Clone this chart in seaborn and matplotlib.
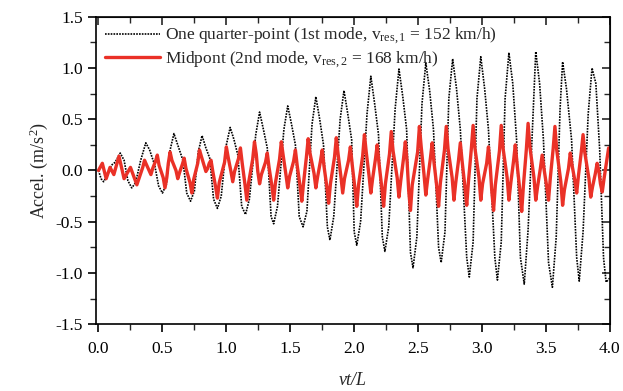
import matplotlib
matplotlib.use("Agg")
import matplotlib.pyplot as plt
from matplotlib.ticker import MultipleLocator
import seaborn as sns
import pandas as pd

# one quarter-point response (peaks, troughs, shoulders)
quarter_x = [0.00, 0.02, 0.04, 0.07, 0.10, 0.13, 0.17, 0.20, 0.23, 0.26,
             0.29, 0.33, 0.37, 0.40, 0.44, 0.47, 0.50, 0.53, 0.56, 0.59,
             0.62, 0.66, 0.69, 0.72, 0.75, 0.78, 0.81, 0.84, 0.87, 0.90,
             0.93, 0.96, 1.00, 1.03, 1.06, 1.09, 1.12, 1.15, 1.18, 1.23,
             1.26, 1.29, 1.32, 1.35, 1.37, 1.40, 1.45, 1.48, 1.51, 1.54,
             1.57, 1.60, 1.63, 1.67, 1.70, 1.73, 1.76, 1.79, 1.81, 1.84,
             1.89, 1.92, 1.95, 1.98, 2.00, 2.02, 2.05, 2.10, 2.13, 2.16,
             2.19, 2.22, 2.24, 2.27, 2.32, 2.35, 2.38, 2.41, 2.44, 2.46,
             2.49, 2.53, 2.56, 2.59, 2.62, 2.66, 2.68, 2.71, 2.74, 2.77,
             2.80, 2.83, 2.88, 2.90, 2.93, 2.96, 2.99, 3.02, 3.05, 3.10,
             3.12, 3.15, 3.18, 3.21, 3.24, 3.27, 3.30, 3.33, 3.36, 3.40,
             3.42, 3.45, 3.48, 3.52, 3.55, 3.58, 3.61, 3.63, 3.66, 3.70,
             3.74, 3.76, 3.79, 3.83, 3.86, 3.89, 3.92, 3.95, 3.97, 4.00]
quarter_y = [0.00, -0.08, -0.11, -0.05, 0.05, 0.08, 0.17, 0.10, -0.10, -0.17,
             -0.12, 0.10, 0.27, 0.20, 0.05, -0.15, -0.22, -0.14, 0.20, 0.36,
             0.25, 0.10, -0.22, -0.30, -0.20, 0.18, 0.34, 0.22, 0.12, -0.28,
             -0.37, -0.25, 0.25, 0.42, 0.30, 0.15, -0.35, -0.43, -0.28, 0.35,
             0.57, 0.40, 0.22, -0.45, -0.52, -0.35, 0.40, 0.63, 0.45, 0.25,
             -0.45, -0.55, -0.40, 0.45, 0.72, 0.50, 0.25, -0.55, -0.68, -0.45,
             0.50, 0.78, 0.55, 0.30, -0.60, -0.73, -0.50, 0.55, 0.92, 0.65,
             0.35, -0.65, -0.79, -0.55, 0.60, 0.99, 0.72, 0.40, -0.80, -0.95,
             -0.65, 0.65, 1.05, 0.78, 0.40, -0.75, -0.90, -0.60, 0.70, 1.09,
             0.80, 0.40, -0.85, -1.04, -0.70, 0.70, 1.11, 0.80, 0.40, -0.85,
             -1.07, -0.70, 0.70, 1.15, 0.85, 0.30, -0.85, -1.11, -0.58, 0.59,
             1.16, 0.85, 0.30, -0.90, -1.14, -0.65, 0.60, 1.06, 0.80, 0.30,
             -0.85, -1.08, -0.60, 0.55, 1.00, 0.85, 0.20, -0.85, -1.09, -1.05]

# midpoint response
mid_x = [0.00, 0.03, 0.06, 0.09, 0.12, 0.16, 0.20, 0.25, 0.30,
         0.346, 0.36, 0.374, 0.396, 0.41, 0.424, 0.446, 0.46, 0.474,
         0.506, 0.52, 0.534, 0.546, 0.56, 0.574, 0.606, 0.62, 0.634,
         0.656, 0.67, 0.684, 0.716, 0.73, 0.744, 0.776, 0.79, 0.804,
         0.826, 0.84, 0.854, 0.866, 0.88, 0.894, 0.916, 0.93, 0.944,
         0.986, 1.00, 1.014, 1.036, 1.05, 1.064, 1.096, 1.11, 1.124,
         1.146, 1.16, 1.174, 1.206, 1.22, 1.234, 1.246, 1.26, 1.274,
         1.306, 1.32, 1.334, 1.356, 1.37, 1.384, 1.416, 1.43, 1.444,
         1.466, 1.48, 1.494, 1.526, 1.54, 1.554, 1.576, 1.59, 1.604,
         1.626, 1.64, 1.654, 1.686, 1.70, 1.714, 1.736, 1.75, 1.764,
         1.786, 1.80, 1.814, 1.846, 1.86, 1.874, 1.896, 1.91, 1.924,
         1.956, 1.97, 1.984, 2.006, 2.02, 2.034, 2.066, 2.08, 2.094,
         2.116, 2.13, 2.144, 2.166, 2.18, 2.194, 2.216, 2.23, 2.244,
         2.276, 2.29, 2.304, 2.336, 2.35, 2.364, 2.386, 2.40, 2.414,
         2.426, 2.44, 2.454, 2.496, 2.51, 2.524, 2.546, 2.56, 2.574,
         2.596, 2.61, 2.624, 2.646, 2.66, 2.674, 2.706, 2.72, 2.734,
         2.766, 2.78, 2.794, 2.816, 2.83, 2.844, 2.866, 2.88, 2.894,
         2.916, 2.93, 2.944, 2.976, 2.99, 3.004, 3.036, 3.05, 3.064,
         3.076, 3.09, 3.104, 3.136, 3.15, 3.164, 3.196, 3.21, 3.224,
         3.246, 3.26, 3.274, 3.296, 3.31, 3.324, 3.346, 3.36, 3.374,
         3.406, 3.42, 3.434, 3.456, 3.47, 3.484, 3.506, 3.52, 3.534,
         3.556, 3.57, 3.584, 3.616, 3.63, 3.644, 3.676, 3.69, 3.704,
         3.726, 3.74, 3.754, 3.776, 3.79, 3.804, 3.836, 3.85, 3.864,
         3.886, 3.90, 3.914, 3.926, 3.94, 3.954, 3.99, 4.00]
mid_y = [0.00, 0.07, -0.08, 0.03, -0.04, 0.14, -0.08, 0.03, -0.14,
         0.03, 0.10, 0.06, 0.00, -0.04, 0.02, 0.09, 0.15, 0.05,
         -0.07, -0.17, -0.07, 0.07, 0.18, 0.10, 0.00, -0.08, -0.02,
         0.06, 0.12, 0.02, -0.12, -0.22, -0.09, 0.07, 0.20, 0.14,
         0.05, -0.01, 0.02, 0.07, 0.10, -0.01, -0.16, -0.27, -0.12,
         0.08, 0.23, 0.13, -0.01, -0.11, -0.01, 0.12, 0.22, 0.07,
         -0.14, -0.29, -0.12, 0.11, 0.28, 0.16, -0.01, -0.13, -0.04,
         0.08, 0.17, 0.03, -0.15, -0.29, -0.12, 0.11, 0.28, 0.15,
         -0.04, -0.17, -0.06, 0.09, 0.20, 0.05, -0.15, -0.30, -0.12,
         0.13, 0.31, 0.17, -0.03, -0.17, -0.06, 0.09, 0.20, 0.04,
         -0.16, -0.32, -0.13, 0.13, 0.32, 0.16, -0.06, -0.22, -0.08,
         0.10, 0.23, 0.06, -0.18, -0.35, -0.14, 0.14, 0.35, 0.18,
         -0.05, -0.22, -0.08, 0.11, 0.25, 0.07, -0.17, -0.35, -0.13,
         0.16, 0.38, 0.19, -0.07, -0.26, -0.10, 0.12, 0.28, 0.08,
         -0.19, -0.39, -0.14, 0.18, 0.43, 0.23, -0.04, -0.24, -0.09,
         0.12, 0.27, 0.08, -0.16, -0.35, -0.12, 0.20, 0.43, 0.21,
         -0.07, -0.29, -0.12, 0.10, 0.27, 0.09, -0.16, -0.34, -0.10,
         0.21, 0.44, 0.22, -0.07, -0.29, -0.13, 0.07, 0.23, 0.04,
         -0.20, -0.39, -0.14, 0.19, 0.44, 0.22, -0.07, -0.29, -0.13,
         0.09, 0.25, 0.06, -0.20, -0.40, -0.14, 0.20, 0.46, 0.23,
         -0.07, -0.29, -0.16, 0.02, 0.15, 0.02, -0.16, -0.29, -0.07,
         0.21, 0.43, 0.20, -0.11, -0.34, -0.19, 0.02, 0.17, 0.05,
         -0.10, -0.22, -0.05, 0.18, 0.35, 0.17, -0.08, -0.26, -0.16,
         -0.03, 0.07, -0.01, -0.13, -0.21, -0.08, 0.22, 0.22]

x_ticks = [0.0, 0.5, 1.0, 1.5, 2.0, 2.5, 3.0, 3.5, 4.0]
y_ticks = [-1.5, -1.0, -0.5, 0.0, 0.5, 1.0, 1.5]

quarter_label = r"One quarter-point (1st mode, v$_{\mathrm{res,1}}$ = 152 km/h)"
mid_label = r"Midpont (2nd mode, v$_{\mathrm{res,2}}$ = 168 km/h)"

sns.set_style("ticks")
plt.rcParams["font.family"] = ["Liberation Serif", "DejaVu Serif"]
plt.rcParams["mathtext.fontset"] = "custom"
plt.rcParams["mathtext.rm"] = "Liberation Serif"
plt.rcParams["mathtext.it"] = "Liberation Serif:italic"

fig, ax = plt.subplots(figsize=(6.23, 3.91), dpi=100)
fig.subplots_adjust(left=0.154, right=0.979, top=0.957, bottom=0.171)

df_q = pd.DataFrame({"x": quarter_x, "y": quarter_y})
df_m = pd.DataFrame({"x": mid_x, "y": mid_y})

sns.lineplot(data=df_q, x="x", y="y", ax=ax, sort=False, estimator=None,
             color="black", linestyle=(0, (1, 0.7)), linewidth=1.2,
             label=quarter_label)
sns.lineplot(data=df_m, x="x", y="y", ax=ax, sort=False, estimator=None,
             color="#ea3127", linewidth=2.4, solid_joinstyle="round",
             label=mid_label)

ax.set_xlim(-0.02, 4.0)
ax.set_ylim(-1.5, 1.5)
ax.set_xticks(x_ticks)
ax.set_yticks(y_ticks)
ax.set_xticklabels([f"{v:.1f}" for v in x_ticks])
ax.set_yticklabels([f"{v:.1f}" for v in y_ticks])
ax.xaxis.set_minor_locator(MultipleLocator(0.25))
ax.yaxis.set_minor_locator(MultipleLocator(0.25))
ax.tick_params(which="major", direction="out", length=6, width=1.2,
               labelsize=12.5, colors="black")
ax.tick_params(axis="x", which="major", pad=6)
ax.tick_params(which="minor", direction="out", length=4, width=1.0)

for side in ["left", "right", "top", "bottom"]:
    ax.spines[side].set_visible(True)
    ax.spines[side].set_linewidth(1.2)
    ax.spines[side].set_color("black")

# inward ticks on the top and right edges
top = ax.secondary_xaxis("top")
top.set_xticks(x_ticks)
top.xaxis.set_minor_locator(MultipleLocator(0.25))
top.tick_params(which="major", direction="in", length=6, width=1.2, labeltop=False)
top.tick_params(which="minor", direction="in", length=4, width=1.0)
right = ax.secondary_yaxis("right")
right.set_yticks(y_ticks)
right.yaxis.set_minor_locator(MultipleLocator(0.25))
right.tick_params(which="major", direction="in", length=6, width=1.2, labelright=False)
right.tick_params(which="minor", direction="in", length=4, width=1.0)

ax.set_xlabel("vt/L", fontsize=13, style="italic", labelpad=11)
ax.set_ylabel(r"Accel. (m/s$^2$)", fontsize=13, labelpad=4)

ax.legend(loc="upper left", frameon=False, fontsize=12.5, handlelength=3.2,
          handletextpad=0.3, borderaxespad=0.1, labelspacing=0.15,
          bbox_to_anchor=(0.0, 1.0))

fig.savefig("out.png", dpi=100)
